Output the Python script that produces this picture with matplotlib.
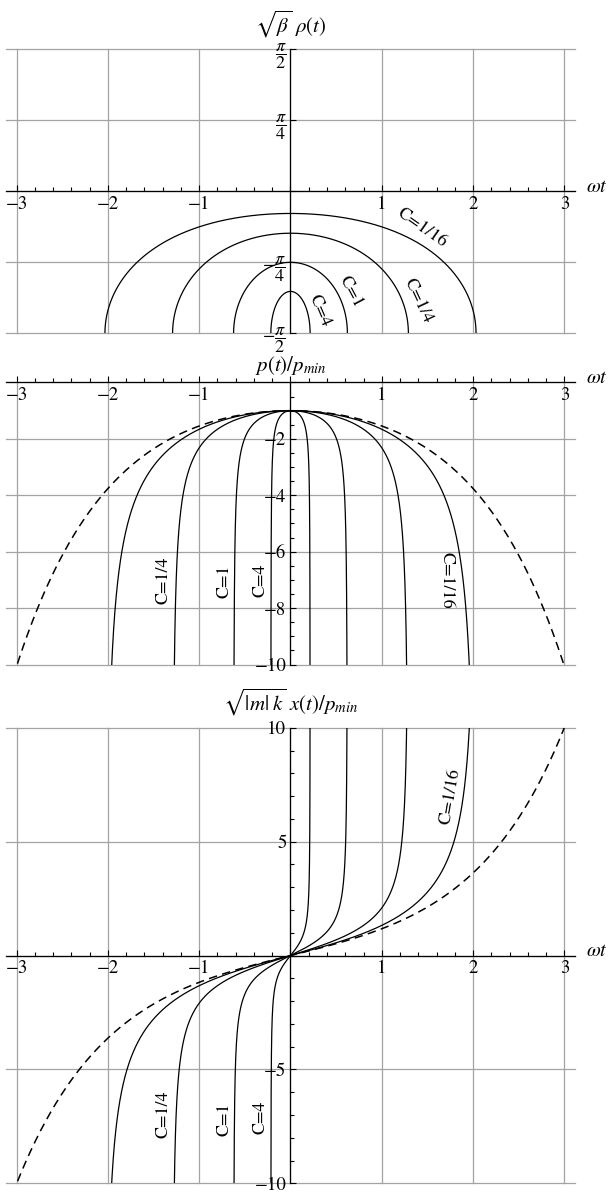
import numpy as np
import matplotlib.pyplot as plt
from matplotlib.ticker import MultipleLocator

plt.rcParams['font.family'] = 'STIXGeneral'
plt.rcParams['mathtext.fontset'] = 'stix'

# C = beta * p_min^2 for each trajectory
c_values = [1/16, 1/4, 1, 4]
c_labels = ['C=1/16', 'C=1/4', 'C=1', 'C=4']

wt_ticks = [-3, -2, -1, 0, 1, 2, 3]
wt_tick_labels = ['\u22123', '\u22122', '\u22121', '', '1', '2', '3']

rho_ticks = [-np.pi/2, -np.pi/4, 0, np.pi/4, np.pi/2]
rho_tick_labels = [r'$-\dfrac{\pi}{2}$', r'$-\dfrac{\pi}{4}$', '',
                   r'$\dfrac{\pi}{4}$', r'$\dfrac{\pi}{2}$']

p_ticks = [-10, -8, -6, -4, -2, 0]
p_tick_labels = ['\u221210', '\u22128', '\u22126', '\u22124', '\u22122', '']

x_ticks = [-10, -5, 0, 5, 10]
x_tick_labels = ['\u221210', '\u22125', '', '5', '10']

WT_MAX = 3.12
GRID = '#a3a3a3'


def trajectory(c, u):
    # rapidity u: p/p_min = -cosh u, sqrt(|m|k) x/p_min = sinh u
    k = np.sqrt(1 + c)
    wt = np.arctanh(np.tanh(u) / k) / k
    p = -np.cosh(u)
    x = np.sinh(u)
    rho = np.arctan(np.sqrt(c) * p)
    return wt, p, x, rho


def setup(ax, ylim, yticks, ylabels, yminor, top_label, label_off):
    ax.set_xlim(-WT_MAX, WT_MAX)
    ax.set_ylim(*ylim)
    for s in ['top', 'right']:
        ax.spines[s].set_visible(False)
    ax.spines['left'].set_position(('data', 0))
    ax.spines['bottom'].set_position(('data', 0))
    for s in ['left', 'bottom']:
        ax.spines[s].set_linewidth(0.9)
        ax.spines[s].set_zorder(5)
    ax.set_xticks(wt_ticks, labels=wt_tick_labels)
    ax.set_yticks(yticks, labels=ylabels)
    ax.xaxis.set_minor_locator(MultipleLocator(0.2))
    if yminor:
        ax.yaxis.set_minor_locator(MultipleLocator(yminor))
    ax.tick_params(which='both', direction='in', width=0.8, labelsize=13.5)
    ax.tick_params(which='major', length=4.5)
    ax.tick_params(which='minor', length=2.6)
    ax.tick_params(axis='x', pad=3)
    ax.tick_params(axis='y', pad=3)
    ax.grid(True, which='major', color=GRID, lw=0.9)
    for ln in ax.get_xgridlines() + ax.get_ygridlines():
        ln.set_clip_on(False)
    ax.set_axisbelow(True)
    ax.annotate(top_label, xy=(0, 1), xycoords=('data', 'axes fraction'),
                xytext=(0, label_off), textcoords='offset points',
                ha='center', va='center', fontsize=15)
    ax.annotate(r'$\omega t$', xy=(1, 0), xycoords=('axes fraction', 'data'),
                xytext=(8, 3), textcoords='offset points',
                ha='left', va='center', fontsize=14.5, annotation_clip=False)


fig = plt.figure(figsize=(6.09, 11.93), dpi=100)
left, width = 0.0092, 0.9356
ax1 = fig.add_axes([left, 0.7206, width, 0.2381])
ax2 = fig.add_axes([left, 0.4430, width, 0.2364])
ax3 = fig.add_axes([left, 0.0081, width, 0.3819])

setup(ax1, (-np.pi/2, np.pi/2), rho_ticks, rho_tick_labels, None,
      r'$\sqrt{\beta}\ \rho(t)$', 18)
setup(ax2, (-10, 0), p_ticks, p_tick_labels, 0.5,
      r'$p(t)/p_{min}$', 12.5)
setup(ax3, (-10, 10), x_ticks, x_tick_labels, 1,
      r'$\sqrt{|m|\; k}\ x(t)/p_{min}$', 18)
for t in ax1.get_yticklabels():
    t.set_fontsize(13)

u = np.linspace(-8, 8, 6001)
for c in c_values:
    wt, p, x, rho = trajectory(c, u)
    ax1.plot(wt, rho, color='black', lw=0.9)
    ax2.plot(wt, p, color='black', lw=0.9)
    ax3.plot(wt, x, color='black', lw=0.9)

# C -> 0 limit: -cosh and sinh
wt0, p0, x0, _ = trajectory(0.0, np.linspace(-3.5, 3.5, 1001))
ax2.plot(wt0, p0, color='black', lw=1.1, ls=(0, (5.5, 3.5)))
ax3.plot(wt0, x0, color='black', lw=1.1, ls=(0, (5.5, 3.5)))

lbl = dict(ha='center', va='center', fontsize=13, rotation_mode='anchor')
rho_label_pos = [(1.437, -0.41, -35), (1.395, -1.21, -65),
                 (0.658, -1.11, -62), (0.318, -1.32, -67)]
p_label_pos = [(1.71, -7.0, -90), (-1.39, -7.03, 90),
               (-0.72, -7.06, 90), (-0.33, -7.0, 90)]
x_label_pos = [(1.756, 7.0, 80), (-1.39, -6.96, 90),
               (-0.72, -7.18, 90), (-0.33, -7.1, 90)]
for name, a, b, c in zip(c_labels, rho_label_pos, p_label_pos, x_label_pos):
    ax1.text(a[0], a[1], name, rotation=a[2], **lbl)
    ax2.text(b[0], b[1], name, rotation=b[2], **lbl)
    ax3.text(c[0], c[1], name, rotation=c[2], **lbl)

fig.savefig('out.png', dpi=100)
